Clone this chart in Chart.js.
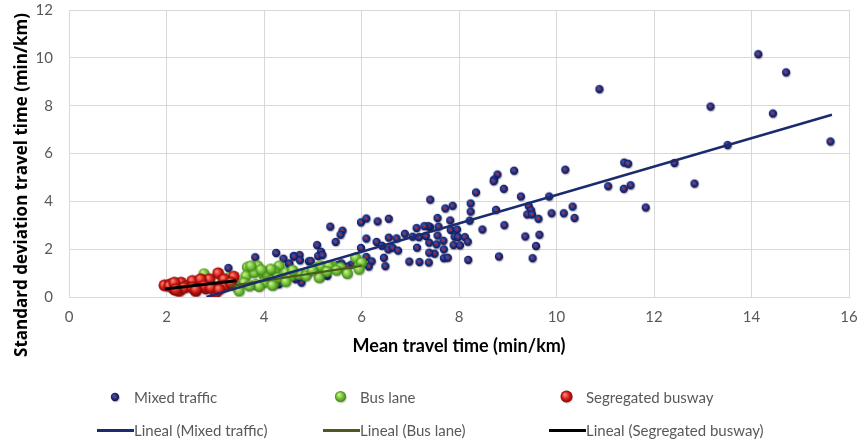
<!DOCTYPE html>
<html>
<head>
<meta charset="utf-8">
<script src="https://cdn.jsdelivr.net/npm/chart.js@4"></script>
<style>
  body { margin: 0; background: #fff; }
  #wrap { position: relative; width: 859px; height: 441px; overflow: hidden; }
  #legend { position: absolute; left: 0; top: 0; width: 859px; height: 441px; pointer-events: none;
            font-family: Lato, "Open Sans", sans-serif; font-size: 15px; color: #595959; }
  .item { position: absolute; height: 20px; display: flex; align-items: center; white-space: nowrap; }
  .sw { width: 38px; height: 20px; display: flex; align-items: center; justify-content: center; }
</style>
</head>
<body>
<div id="wrap">
  <canvas id="chart" width="859" height="441"></canvas>
  <div id="legend"></div>
</div>
<script>
/* -------- DATA -------- */
const mixedX = [10.89,14.15,14.72,13.17,14.45,15.63,13.52,12.43,11.40,11.48,12.84,11.07,11.39,11.53,11.84,
  10.19,10.34,10.38,10.16,9.91,9.86,9.14,8.80,8.73,8.72,8.93,8.36,9.28,8.25,8.25,8.23,8.77,9.44,9.49,9.41,9.51,
  9.64,8.94,8.49,9.66,9.37,9.59,8.83,9.52,8.20,7.42,7.73,7.88,7.57,7.83,7.59,7.42,7.84,7.97,7.57,7.92,7.99,8.13,
  7.69,8.19,7.55,7.40,7.90,8.03,7.70,7.51,7.40,7.70,7.39,
  5.37,5.62,5.58,6.00,6.11,6.34,6.57,5.48,6.11,5.10,5.18,5.12,4.62,4.74,6.00,6.32,6.57,6.73,6.43,6.56,6.65,6.76,
  6.90,7.14,7.06,7.19,7.33,7.38,7.15,6.99,7.20,6.47,6.50,6.11,6.22,6.16,5.80,5.72,5.60,4.93,4.52,7.78,7.30,
  3.28,3.83,4.26,4.41,4.53,4.63,3.88,4.10,4.75,4.97,5.21,5.29,5.17,4.78,4.66,4.42,5.53,5.31,4.32];
const mixedY = [8.67,10.13,9.37,7.94,7.65,6.48,6.33,5.58,5.60,5.55,4.72,4.61,4.50,4.65,3.72,
  5.30,3.76,3.28,3.48,3.48,4.18,5.26,5.10,4.89,4.82,4.50,4.35,4.18,3.89,3.55,3.17,3.62,3.78,3.60,3.43,3.43,
  3.25,2.98,2.80,2.58,2.51,2.11,1.67,1.60,1.53,4.05,3.68,3.79,3.28,3.18,2.92,2.90,2.78,2.80,2.55,2.50,2.48,2.48,
  2.33,2.29,2.18,2.25,2.15,2.14,1.97,1.79,1.83,1.60,1.42,
  2.92,2.75,2.58,3.10,3.26,3.14,3.25,2.28,2.42,2.15,1.87,1.69,1.69,1.73,2.03,2.28,2.46,2.43,2.12,1.97,2.04,1.92,
  2.62,2.86,2.50,2.48,2.53,2.94,2.04,1.46,1.44,1.62,1.27,1.65,1.47,1.25,1.33,1.25,1.39,1.47,1.36,1.62,2.94,
  1.19,1.64,1.82,1.58,1.38,1.67,1.28,1.11,1.51,1.48,1.73,1.21,0.79,0.58,0.72,0.72,1.32,0.86,0.51];

const busX = [3.67,3.88,4.32,3.64,3.81,4.00,4.22,4.28,4.46,4.56,4.73,4.90,5.10,5.24,5.41,5.58,5.89,5.96,5.72,
  5.14,4.87,4.20,4.46,4.01,3.84,3.47,3.33,3.60,6.01,5.96,4.05,4.18,3.91,3.71,3.43,3.50,2.78,3.30,3.15,3.74,
  5.17,5.34,4.60,5.00,4.15,3.95,5.30,5.50];
const busY = [1.23,1.28,1.28,0.86,1.00,0.93,1.07,0.79,1.00,0.86,0.93,1.00,1.21,1.23,1.28,1.21,1.62,1.28,0.96,
  0.79,0.86,0.51,0.62,0.58,0.51,0.37,0.51,0.58,1.42,1.14,0.97,0.47,0.42,0.44,0.44,0.23,0.95,0.80,0.55,1.28,
  1.28,1.28,1.10,1.10,1.15,1.12,1.05,1.10];

const segX = [1.97,2.08,2.31,2.54,2.73,3.07,3.39,3.19,2.89,2.41,2.17,2.82,3.00,3.16,2.61,3.02,2.27,2.07,2.17,
  2.37,2.54,2.71,2.78,3.19,3.33,2.92,2.61,2.20,3.09];
const segY = [0.47,0.50,0.58,0.65,0.68,0.97,0.83,0.72,0.72,0.42,0.30,0.33,0.37,0.42,0.23,0.17,0.23,0.44,0.58,
  0.37,0.37,0.72,0.44,0.44,0.58,0.37,0.30,0.30,0.30];

// linear trend lines, end points
const mixedTrendX = [2.82, 15.65];
const mixedTrendY = [0.0, 7.62];
const busTrendX = [3.30, 6.00];
const busTrendY = [0.46, 1.30];
const segTrendX = [1.97, 3.43];
const segTrendY = [0.33, 0.68];

const xMin = 0, xMax = 16, xStep = 2;
const yMin = 0, yMax = 12, yStep = 2;

const labels = ["Mixed traffic", "Bus lane", "Segregated busway",
  "Lineal (Mixed traffic)", "Lineal (Bus lane)", "Lineal (Segregated busway)"];

/* -------- HELPERS -------- */
function pts(xs, ys){ return xs.map((x, i) => ({ x: x, y: ys[i] })); }

// little shaded "3D" ball used as point style
function ball(r, c0, c1, c2, dot){
    const s = Math.ceil(r * 2 + 4);
    const cv = document.createElement("canvas");
    cv.width = s; cv.height = s;
    const g = cv.getContext("2d");
    const c = s / 2 - 0.5;
    g.fillStyle = "rgba(0,0,0,0.18)";
    g.beginPath(); g.arc(c + 0.8, c + 1.3, r, 0, Math.PI * 2); g.fill();
    const grd = g.createRadialGradient(c - r * 0.3, c - r * 0.35, r * 0.1, c, c, r);
    grd.addColorStop(0, c0);
    grd.addColorStop(0.55, c1);
    grd.addColorStop(1, c2);
    g.fillStyle = grd;
    g.beginPath(); g.arc(c, c, r, 0, Math.PI * 2); g.fill();
    if (dot) {
        g.fillStyle = dot;
        g.beginPath(); g.arc(c, c, r * 0.32, 0, Math.PI * 2); g.fill();
    }
    return cv;
}

const blueBall = ball(4.2, "#3352b8", "#1d318c", "#0a144c", "#b8262a");
const greenBall = ball(5.6, "#c9f08c", "#74c038", "#3a8416", null);
const redBall = ball(6, "#ff8070", "#d61e18", "#800606", null);

/* -------- Y TITLE (placed like the original) -------- */
const yTitle = {
    id: "yTitle",
    afterDraw(chart){
        const ctx = chart.ctx;
        ctx.save();
        ctx.translate(22, 185);
        ctx.rotate(-Math.PI / 2);
        ctx.font = "bold 17px 'Open Sans', sans-serif";
        ctx.fillStyle = "#000";
        ctx.textAlign = "center";
        ctx.textBaseline = "middle";
        ctx.fillText("Standard deviation travel time (min/km)", 0, 0);
        ctx.restore();
    }
};

/* -------- CHART -------- */
const grid = "#d9d9d9";
const ctx = document.getElementById("chart").getContext("2d");

const chart = new Chart(ctx, {
    type: "scatter",
    data: {
        datasets: [
            { label: labels[0], data: pts(mixedX, mixedY), pointStyle: blueBall, order: 3 },
            { label: labels[1], data: pts(busX, busY), pointStyle: greenBall, order: 2 },
            { label: labels[2], data: pts(segX, segY), pointStyle: redBall, order: 1 },
            { label: labels[3], data: pts(mixedTrendX, mixedTrendY), showLine: true, pointRadius: 0,
              borderColor: "#1c2a6e", borderWidth: 2.5, order: 0 },
            { label: labels[4], data: pts(busTrendX, busTrendY), showLine: true, pointRadius: 0,
              borderColor: "#4b5b1c", borderWidth: 2.2, order: 0 },
            { label: labels[5], data: pts(segTrendX, segTrendY), showLine: true, pointRadius: 0,
              borderColor: "#000000", borderWidth: 3, order: 0 }
        ]
    },
    options: {
        responsive: false,
        animation: false,
        layout: { padding: { top: 10, right: 10, bottom: 84, left: 0 } },
        plugins: { legend: { display: false }, tooltip: { enabled: false } },
        scales: {
            x: {
                type: "linear", min: xMin, max: xMax,
                ticks: { stepSize: xStep, color: "#595959", padding: 0,
                         font: { family: "Lato", size: 15 } },
                grid: { color: grid, drawTicks: true, tickLength: 11, tickColor: "rgba(0,0,0,0)" },
                border: { color: grid },
                title: { display: true, text: "Mean travel time (min/km)", color: "#000",
                         padding: { top: 0, bottom: 0 },
                         font: { family: "Lato", size: 18, weight: "bold" } },
                afterFit(s){ s.height = 60; }
            },
            y: {
                type: "linear", min: yMin, max: yMax,
                ticks: { stepSize: yStep, color: "#595959", padding: 0,
                         font: { family: "Lato", size: 15 } },
                grid: { color: grid, drawTicks: true, tickLength: 16, tickColor: "rgba(0,0,0,0)" },
                border: { color: grid },
                afterFit(s){ s.width = 69; }
            }
        }
    },
    plugins: [yTitle]
});

/* -------- LEGEND (3 fixed columns like the original) -------- */
const legend = document.getElementById("legend");
const colX = [96, 322, 548];
const rowY = [397, 430];
chart.data.datasets.forEach((ds, i) => {
    const div = document.createElement("div");
    div.className = "item";
    div.style.left = colX[i % 3] + "px";
    div.style.top = (rowY[Math.floor(i / 3)] - 10) + "px";
    const sw = document.createElement("div");
    sw.className = "sw";
    if (ds.pointStyle instanceof HTMLCanvasElement) {
        const img = document.createElement("img");
        img.src = ds.pointStyle.toDataURL();
        sw.appendChild(img);
    } else {
        const ln = document.createElement("div");
        ln.style.width = "37px";
        ln.style.height = "3px";
        ln.style.background = ds.borderColor;
        sw.appendChild(ln);
    }
    const tx = document.createElement("span");
    tx.textContent = ds.label;
    div.appendChild(sw);
    div.appendChild(tx);
    legend.appendChild(div);
});
</script>
</body>
</html>
